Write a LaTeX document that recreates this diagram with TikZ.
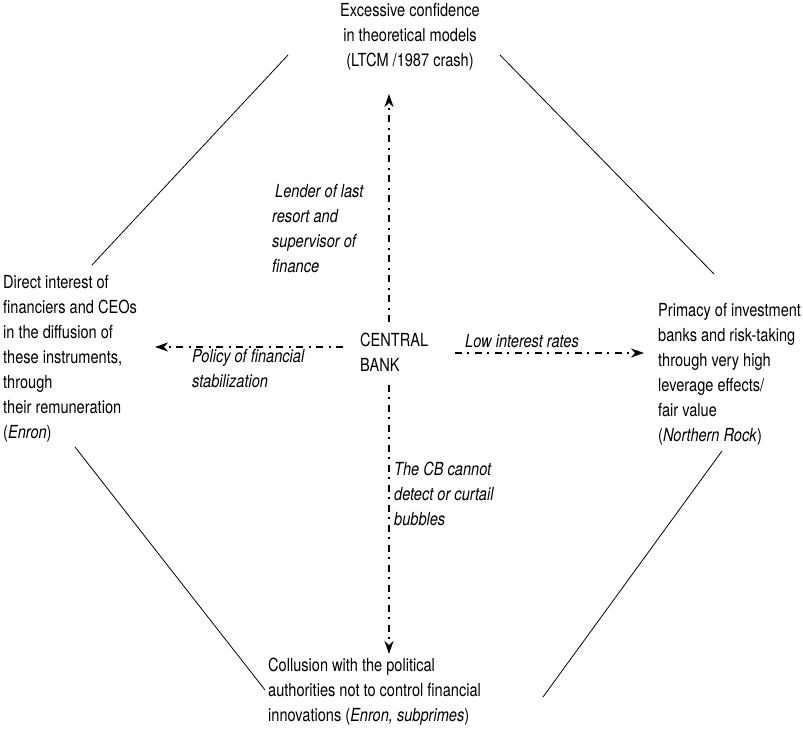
\documentclass[tikz,border=0pt]{standalone}
\usepackage{fontspec}
\setmainfont[FakeStretch=0.81]{TeX Gyre Heros}
\usetikzlibrary{arrows.meta}
\begin{document}
\begin{tikzpicture}[x=1pt,y=-1pt,
  txt/.style={font=\fontsize{18}{25}\selectfont, inner sep=0pt},
  lbl/.style={font=\fontsize{18}{25}\selectfont\itshape, inner sep=0pt, align=left},
  flow/.style={line width=2pt, dash pattern=on 7pt off 5pt on 2pt off 6pt,
    -{Stealth[length=13pt,width=9pt,inset=4pt]}},
  edge/.style={line width=0.8pt}]
\useasboundingbox (0,0) rectangle (803,738);

% the five statements
\node[txt, align=center, anchor=north] (top) at (410,3)
  {Excessive confidence\\in theoretical models\\(LTCM /1987 crash)};
\node[txt, align=left, anchor=north west] (left) at (3,275)
  {Direct interest of\\financiers and CEOs\\in the diffusion of\\these instruments,\\through\\their remuneration\\(\textit{Enron})};
\node[txt, align=left, anchor=north west] (right) at (658,303)
  {Primacy of investment\\banks and risk-taking\\through very high\\leverage effects/\\fair value\\(\textit{Northern Rock})};
\node[txt, align=left, anchor=north west] (bottom) at (268,658)
  {Collusion with the political\\authorities not to control financial\\innovations (\textit{Enron, subprimes})};
\node[txt, align=left, anchor=north west] (cb) at (360,333) {CENTRAL\\BANK};

% arrow ends
\coordinate (cbN) at (389,322);
\coordinate (cbS) at (389,385);
\coordinate (cbW) at (343,347);
\coordinate (cbE) at (455,353);
\coordinate (tipN) at (389,94);
\coordinate (tipS) at (389,654);
\coordinate (tipW) at (155,347);
\coordinate (tipE) at (644,353);

\draw[flow] (cbN) -- (tipN);
\draw[flow] (cbS) -- (tipS);
\draw[flow] (cbW) -- (tipW);
\draw[flow] (cbE) -- (tipE);

% arrow labels
\node[lbl, anchor=north west] (lender) at (272,184)
  {\hspace*{3pt}Lender of last\\resort and\\supervisor of\\finance};
\node[lbl, anchor=north west] (bubbles) at (394,462)
  {The CB cannot\\detect or curtail\\bubbles};
\node[lbl, anchor=north west] (policy) at (192,349)
  {Policy of financial\\stabilization};
\node[lbl, anchor=north west] (low) at (465,334) {Low interest rates};

% outline joining the statements
\coordinate (a1) at (288,55);  \coordinate (a2) at (92,265);
\coordinate (b1) at (500,55);  \coordinate (b2) at (714,274);
\coordinate (c1) at (75,447);  \coordinate (c2) at (265,690);
\coordinate (d1) at (722,451); \coordinate (d2) at (543,697);
\draw[edge] (a1) -- (a2);
\draw[edge] (b1) -- (b2);
\draw[edge] (c1) -- (c2);
\draw[edge] (d1) -- (d2);
\end{tikzpicture}
\end{document}
